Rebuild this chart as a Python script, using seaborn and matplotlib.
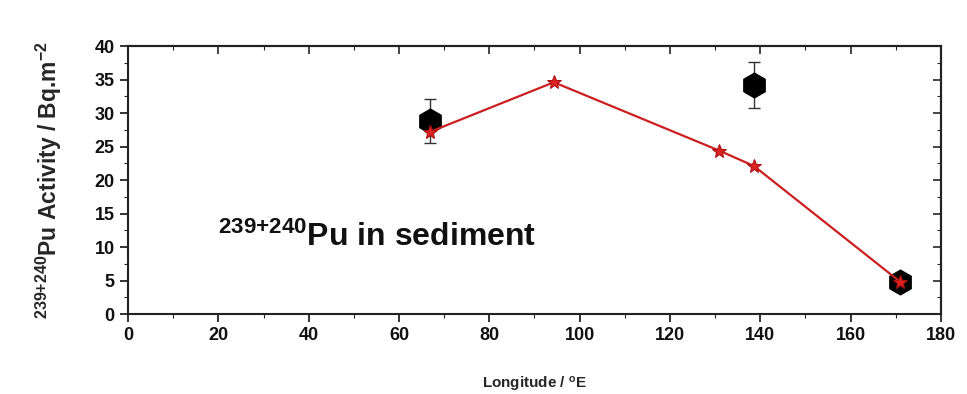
import matplotlib
matplotlib.use("Agg")
import matplotlib.pyplot as plt
from matplotlib.ticker import MultipleLocator
import seaborn as sns
import pandas as pd

# Data
star_lon = [66.9, 94.3, 130.9, 138.6, 171.0]
star_act = [27.2, 34.6, 24.4, 22.1, 4.8]
hex_lon = [66.9, 138.6, 171.0]
hex_act = [28.8, 34.2, 4.8]
hex_err = [3.3, 3.4, 0.8]

sns.set_style("ticks")
plt.rcParams['font.family'] = ['Liberation Sans', 'DejaVu Sans']
plt.rcParams['mathtext.fontset'] = 'custom'
plt.rcParams['mathtext.rm'] = 'Liberation Sans:bold'
plt.rcParams['mathtext.bf'] = 'Liberation Sans:bold'
plt.rcParams['mathtext.it'] = 'Liberation Sans:bold'
plt.rcParams['mathtext.default'] = 'bf'

fig = plt.figure(figsize=(9.67, 3.94), dpi=100)
ax = fig.add_axes([0.1324, 0.203, 0.8406, 0.680])

df_hex = pd.DataFrame({"lon": hex_lon, "act": hex_act})
df_star = pd.DataFrame({"lon": star_lon, "act": star_act})

ax.errorbar(hex_lon, hex_act, yerr=hex_err, fmt='none', ecolor='#333333',
            elinewidth=1.0, capsize=4, capthick=1.0, zorder=2)
sns.scatterplot(data=df_hex, x="lon", y="act", ax=ax, marker='h', s=300,
                color='black', edgecolor='black', zorder=3, legend=False)
sns.lineplot(data=df_star, x="lon", y="act", ax=ax, color='#cc1f1f',
             linewidth=1.6, marker='*', markersize=10, markeredgecolor='#aa1010',
             markerfacecolor='#dd2222', zorder=4, legend=False)

ax.set_xlim(0, 180)
ax.set_ylim(0, 40)
ax.xaxis.set_major_locator(MultipleLocator(20))
ax.xaxis.set_minor_locator(MultipleLocator(10))
ax.yaxis.set_major_locator(MultipleLocator(5))
ax.yaxis.set_minor_locator(MultipleLocator(2.5))

for s in ax.spines.values():
    s.set_visible(True)
    s.set_linewidth(1.5)
    s.set_color('#222222')

ax.tick_params(axis='both', which='major', direction='out', length=6, width=1.2,
               labelsize=13, colors='#111111')
ax.tick_params(axis='both', which='minor', direction='out', length=3, width=0.8)
for lab in ax.get_xticklabels() + ax.get_yticklabels():
    lab.set_fontweight('bold')

ax2 = ax.secondary_xaxis('top')
ax2.xaxis.set_major_locator(MultipleLocator(20))
ax2.xaxis.set_minor_locator(MultipleLocator(10))
ax2.tick_params(which='major', direction='in', length=6, width=1.2, labeltop=False)
ax2.tick_params(which='minor', direction='in', length=3, width=0.8)
ax2.set_xticklabels([])
ax2.spines['top'].set_linewidth(1.5)
ay2 = ax.secondary_yaxis('right')
ay2.yaxis.set_major_locator(MultipleLocator(5))
ay2.yaxis.set_minor_locator(MultipleLocator(2.5))
ay2.tick_params(which='major', direction='in', length=6, width=1.2, labelright=False)
ay2.tick_params(which='minor', direction='in', length=3, width=0.8)
ay2.set_yticklabels([])
ay2.spines['right'].set_linewidth(1.5)

ax.set_xlabel(r"Longitude / $^{o}$E", fontsize=11, fontweight='bold', labelpad=22)
ax.set_ylabel(r"$^{239{+}240}$Pu Activity / Bq.m$^{-2}$", fontsize=16.5,
              fontweight='bold', labelpad=22)

ax.text(20, 11.5, r"$^{239{+}240}$Pu in sediment", fontsize=23, fontweight='bold',
        ha='left', va='center', color='#111111')

fig.savefig("out.png", dpi=100)
